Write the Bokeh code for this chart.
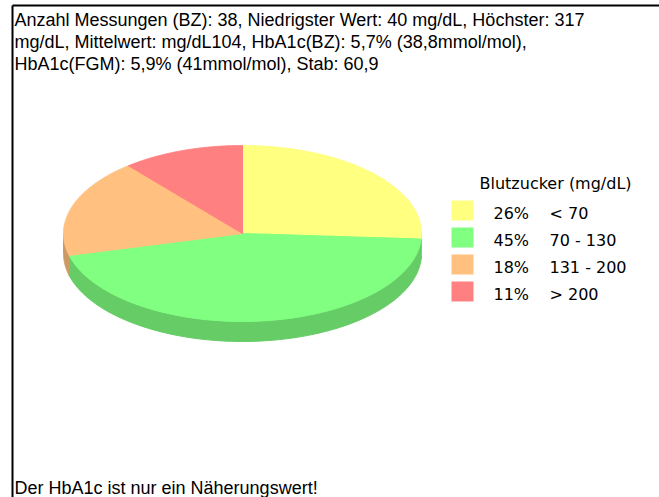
import numpy as np
from bokeh.plotting import figure
from bokeh.models import Range1d
from bokeh.core.properties import value
from bokeh.embed import file_html
from bokeh.resources import INLINE

info_lines = [
    "Anzahl Messungen (BZ): 38, Niedrigster Wert: 40 mg/dL, Höchster: 317",
    "mg/dL, Mittelwert: mg/dL104, HbA1c(BZ): 5,7% (38,8mmol/mol),",
    "HbA1c(FGM): 5,9% (41mmol/mol), Stab: 60,9",
]
footnote = "Der HbA1c ist nur ein Näherungswert!"
legend_title = "Blutzucker (mg/dL)"
ranges = ["< 70", "70 - 130", "131 - 200", "> 200"]
percent = [26, 45, 18, 11]
top_colors = ["#ffff80", "#80ff80", "#ffc080", "#ff8080"]
side_colors = ["#cccc66", "#66cc66", "#cc9a66", "#cc6666"]

W, H = 659, 497
p = figure(width=W, height=H, x_range=Range1d(0, W), y_range=Range1d(H, 0),
           output_backend="svg", toolbar_location=None, min_border=0,
           x_axis_location=None, y_axis_location=None)
p.grid.visible = False
p.outline_line_color = None
p.background_fill_color = "white"
p.border_fill_color = "white"

# frame lines (top and left)
p.segment(x0=[12, 12], y0=[5, 5], x1=[W, 12], y1=[5, H], line_color="black", line_width=2)

# 3D pie
cx, cy, rx, ry, depth = 242, 233, 179, 88, 20
frac = np.array(percent, dtype=float) / np.sum(percent)
ends = np.cumsum(frac) * 2 * np.pi
starts = ends - frac * 2 * np.pi

def ex(phi):
    return cx + rx * np.sin(phi)

def ey(phi):
    return cy - ry * np.cos(phi)

side_xs, side_ys, side_c = [], [], []
for s, e, c in zip(starts, ends, side_colors):
    a, b = max(s, np.pi / 2), min(e, 3 * np.pi / 2)
    if a < b:
        phi = np.linspace(a, b, 120)
        side_xs.append(list(np.concatenate([ex(phi), ex(phi[::-1])])))
        side_ys.append(list(np.concatenate([ey(phi), ey(phi[::-1]) + depth])))
        side_c.append(c)
p.patches(side_xs, side_ys, fill_color=side_c, line_color=side_c, line_width=1)

top_xs, top_ys = [], []
for s, e in zip(starts, ends):
    phi = np.linspace(s, e, 200)
    top_xs.append([cx] + list(ex(phi)))
    top_ys.append([cy] + list(ey(phi)))
p.patches(top_xs, top_ys, fill_color=top_colors, line_color=top_colors, line_width=1)

# info text
p.text(x=14, y=[19, 41, 63], text=info_lines, text_font=value("Liberation Sans"),
       text_font_size="18px", text_baseline="middle", text_color="black")
p.text(x=14, y=[487], text=[footnote], text_font=value("Liberation Sans"),
       text_font_size="18px", text_baseline="middle", text_color="black")

# legend
ly = [210 + 27 * i for i in range(len(percent))]
p.text(x=479, y=[183], text=[legend_title], text_font=value("DejaVu Sans"),
       text_font_size="16px", text_baseline="middle", text_color="black")
p.rect(x=462, y=ly, width=22, height=20, fill_color=top_colors, line_color=None)
p.text(x=493, y=[v + 3 for v in ly], text=[f"{v}%" for v in percent],
       text_font=value("DejaVu Sans"), text_font_size="16px",
       text_baseline="middle", text_color="black")
p.text(x=549, y=[v + 3 for v in ly], text=ranges,
       text_font=value("DejaVu Sans"), text_font_size="16px",
       text_baseline="middle", text_color="black")

open("out.html", "w").write(file_html(p, INLINE))
